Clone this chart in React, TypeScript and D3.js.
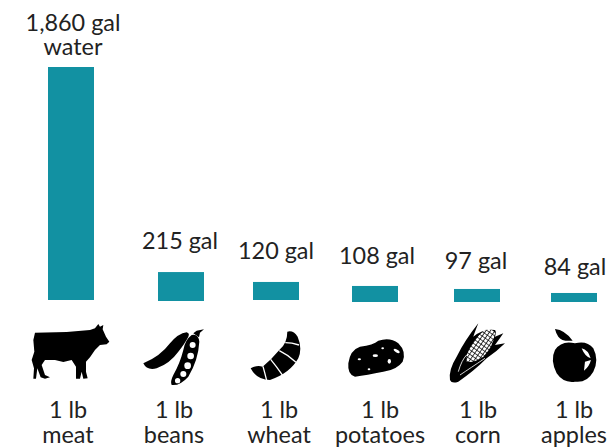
import React from "react";
import * as d3 from "d3";

const categories = ["meat", "beans", "wheat", "potatoes", "corn", "apples"];
const gallons = ["1,860", "215", "120", "108", "97", "84"];
// the source bars are not quite to scale with their labels, so lengths are read off the bars
const barGallons = [1860, 231, 144, 128, 104, 72];

const WIDTH = 611;
const HEIGHT = 447;
const TEAL = "#1291a2";
const INK = "#222";
const FONT = "Lato, sans-serif";
const FONT_SIZE = 23.4;

const barCentres = [71, 181, 276, 375, 477, 574];
const barBottoms = [300, 301, 300, 302, 302, 302];
const topLabelCentres = [73, 180, 276, 377, 476, 575];
const topLabelGaps = [36, 23, 23, 22, 20, 18];
const footLabelCentres = [68, 174, 279, 380, 478, 574];

const x = d3.scaleOrdinal<string, number>().domain(categories).range(barCentres);
const labelX = d3.scaleOrdinal<string, number>().domain(categories).range(topLabelCentres);
const footX = d3.scaleOrdinal<string, number>().domain(categories).range(footLabelCentres);
const barLength = d3.scaleLinear().domain([0, 1860]).range([0, 233]);
const BAR_W = 46;

// icons traced at 3x, so they get drawn at 1/3 scale
const Icons = () => (
  <g>
    <defs>
      <pattern id="kernels" width="11" height="11" patternUnits="userSpaceOnUse" patternTransform="rotate(35)">
        <rect width="11" height="11" fill="#fff" />
        <path d="M0 0H11M0 0V11" stroke="#000" strokeWidth="4.5" />
      </pattern>
    </defs>
    <g transform="translate(0,300) scale(0.3333)">
      {/* cow */}
      <path d="M105 98L200 96L270 90L285 85L295 72L300 80L310 75L308 88L318 110L328 125L320 133L300 135L285 150L270 172L258 185L258 215L263 235L250 236L245 215L240 236L228 236L228 200L215 180L190 186L165 180L135 180L125 195L135 225L150 232L135 236L122 232L112 205L108 236L100 236L102 205L95 180L103 155L100 120Z" />
      {/* pea pods */}
      <path d="M430 190Q480 170 510 130Q535 100 560 97Q570 100 565 110Q555 130 535 155Q510 190 470 205Q440 212 430 190Z" />
      <path d="M580 100L590 92L612 88L600 98L597 112Z" />
      <path d="M575 105Q595 100 598 125Q595 180 565 230Q540 258 515 255Q510 245 520 225Q540 190 550 150Q555 120 575 105Z" />
      <g fill="#fff">
        <circle cx="578" cy="135" r="9" />
        <circle cx="572" cy="168" r="10" />
        <circle cx="563" cy="197" r="10" />
        <circle cx="550" cy="222" r="9" />
        <circle cx="533" cy="242" r="8" />
      </g>
      {/* croissant */}
      <path d="M862 95Q880 90 893 110Q908 145 895 175Q870 220 810 240Q770 240 752 205Q770 195 788 200Q815 178 838 150Q862 130 862 95Z" />
      <g stroke="#fff" strokeWidth="4" fill="none">
        <path d="M856 128Q875 128 897 135" />
        <path d="M838 152Q865 165 888 187" />
        <path d="M812 178Q830 200 848 226" />
        <path d="M789 199Q795 220 800 241" />
      </g>
    </g>
    <g transform="translate(310,300) scale(0.3333)">
      {/* potato */}
      <path d="M115 190Q120 150 150 140Q190 135 205 122Q240 110 265 130Q290 155 278 185Q260 210 220 215Q170 225 135 230Q112 225 115 190Z" />
      <g fill="#fff">
        <ellipse cx="148" cy="178" rx="5" ry="3" />
        <ellipse cx="196" cy="167" rx="8" ry="4" />
        <ellipse cx="238" cy="184" rx="5" ry="7" />
        <ellipse cx="260" cy="153" rx="10" ry="4" transform="rotate(30 260 153)" />
        <ellipse cx="177" cy="208" rx="4" ry="3" />
        <ellipse cx="218" cy="145" rx="4" ry="3" />
      </g>
      {/* corn */}
      <path d="M420 240Q415 210 440 170Q465 120 505 70Q495 95 490 110Q520 85 555 90Q560 95 555 110L580 100Q570 115 555 135L585 130Q560 155 530 175Q490 215 445 245Q425 252 420 240Z" />
      <path d="M470 165Q490 115 525 90Q550 85 555 100Q550 140 520 170Q490 190 470 185Z" fill="url(#kernels)" />
      <path d="M445 215Q455 180 470 165M450 225Q480 205 525 175" stroke="#fff" strokeWidth="2.5" fill="none" />
      {/* apple */}
      <path d="M795 130Q830 120 850 145Q868 180 850 215Q830 250 795 245Q760 250 740 220Q720 180 735 150Q755 120 795 130Z" />
      <path d="M735 87Q765 90 788 122Q755 125 745 110Q738 100 735 87Z" />
      <path d="M815 145Q835 150 842 175Q825 170 815 145ZM825 185L843 180Q838 200 822 212Z" fill="#fff" />
    </g>
  </g>
);

export default function App() {
  return (
    <svg
      width={WIDTH}
      height={HEIGHT}
      style={{ position: "absolute", left: 0, top: 0 }}
      fontFamily={FONT}
      fontSize={FONT_SIZE}
      fill={INK}
    >
      {categories.map((c, i) => {
        const top = barBottoms[i] - barLength(barGallons[i]);
        return (
          <g key={c}>
            <rect
              x={x(c) - BAR_W / 2}
              y={top}
              width={BAR_W}
              height={barLength(barGallons[i])}
              fill={TEAL}
            />
            <text x={labelX(c)} y={top - topLabelGaps[i]} textAnchor="middle">
              {gallons[i]} gal
            </text>
            {i === 0 && (
              <text x={labelX(c)} y={top - 12} textAnchor="middle">
                water
              </text>
            )}
            <text x={footX(c)} y={418} textAnchor="middle">
              1 lb
            </text>
            <text x={footX(c)} y={443} textAnchor="middle">
              {c}
            </text>
          </g>
        );
      })}
      <g fill="#000">
        <Icons />
      </g>
    </svg>
  );
}
